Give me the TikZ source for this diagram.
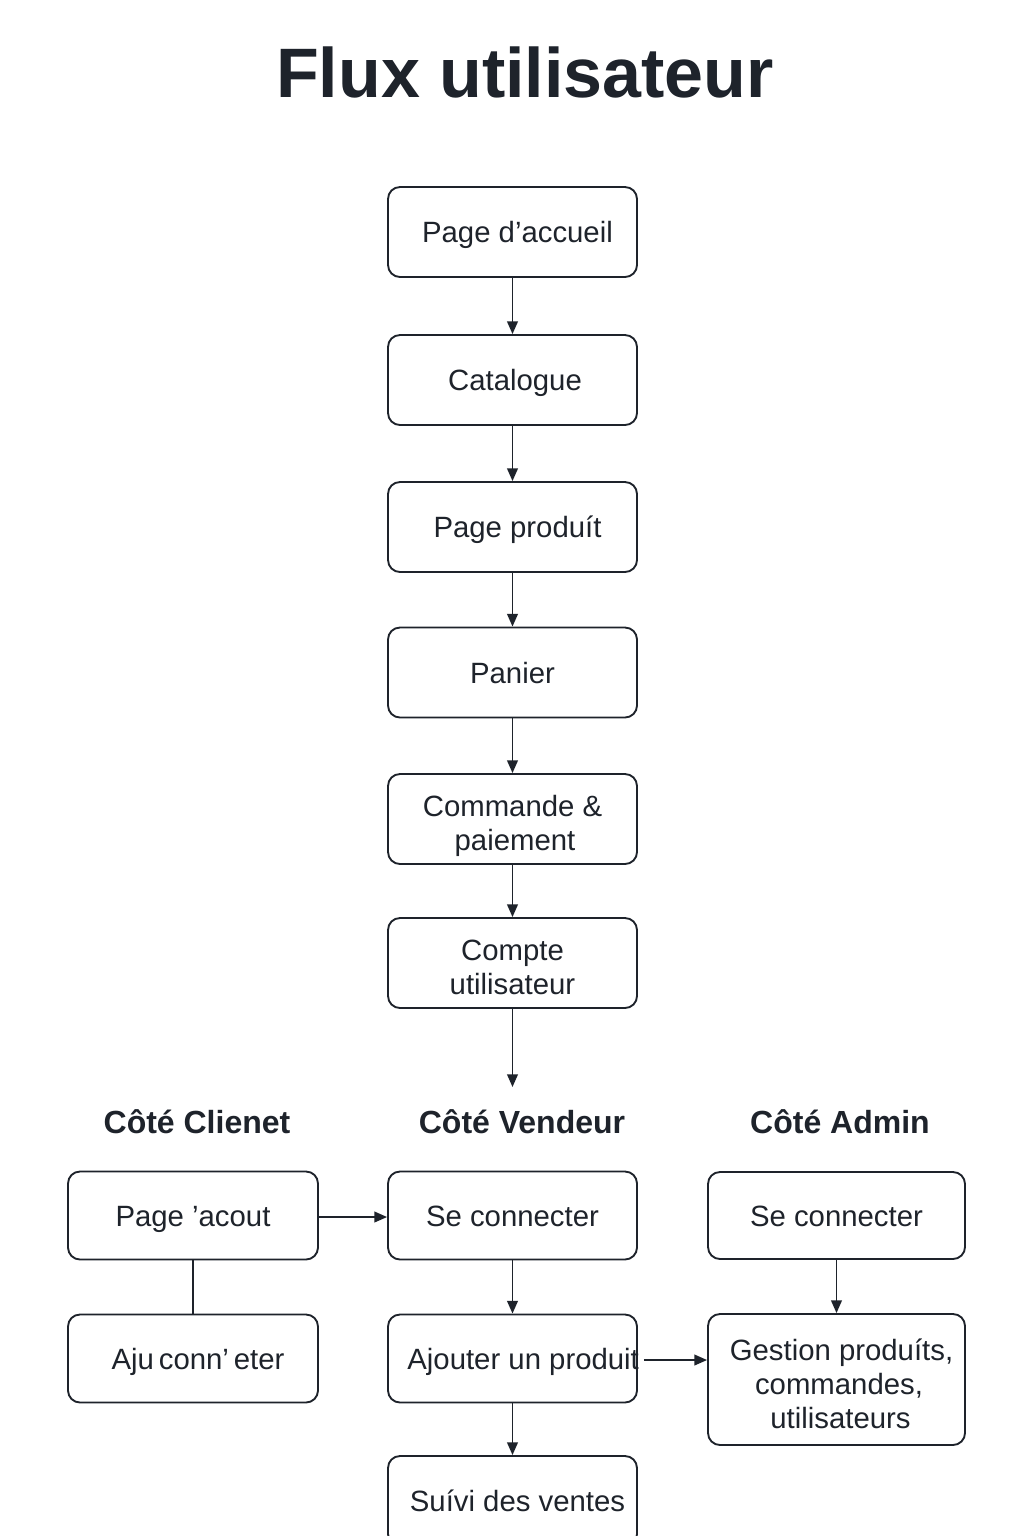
\documentclass[tikz,border=0pt]{standalone}
\usepackage{fontspec}
\setmainfont{Liberation Sans}
\usetikzlibrary{arrows.meta}
\definecolor{ink}{HTML}{1E232B}
\newcommand\sstrut{\rule[-5pt]{0pt}{25.8pt}}
\newcommand\fstrut{\rule{0pt}{26.8pt}}
\newcommand\lstrut{\rule[-5pt]{0pt}{5pt}}
\begin{document}
\begin{tikzpicture}[x=0.75pt,y=-0.75pt,
 box/.style={draw=ink, line width=1.4pt, rounded corners=9pt, align=center, font=\fontsize{22}{25.5}\selectfont, text=ink, inner sep=0pt},
 mainbox/.style={box, minimum width=186.75pt, minimum height=67.5pt},
 leftbox/.style={box, minimum width=187.5pt, minimum height=66pt},
 adminbox/.style={box, minimum width=192.75pt, minimum height=65.25pt},
 link/.style={draw=ink, line width=1.3pt, -{Triangle[length=9.5pt,width=8pt]}},
 plainlink/.style={draw=ink, line width=1.3pt},
 head/.style={font=\bfseries\fontsize{24}{28}\selectfont, text=ink}]
\fill[white] (0,0) rectangle (1024,1536);
\useasboundingbox (0,0) rectangle (1024,1536);

\node[font=\bfseries\fontsize{52.5}{60}\selectfont, text=ink, anchor=base] (title) at (525,97) {Flux utilisateur};

\node[mainbox] (accueil) at (512.5,232) {\sstrut\kern 7.5pt Page d’accueil};
\node[mainbox] (catalogue) at (512.5,380) {\sstrut\kern 3.75pt Catalogue};
\node[mainbox] (produit) at (512.5,527) {\sstrut\kern 7.5pt Page produít};
\node[mainbox] (panier) at (512.5,672.5) {\sstrut Panier};
\node[mainbox] (commande) at (512.5,819) {\fstrut Commande \&\\\kern 3.75pt paiement\lstrut};
\node[mainbox] (compte) at (512.5,963) {\fstrut Compte\\utilisateur\lstrut};
\coordinate (split) at (512.5,1087);

\draw[link] (accueil) -- (catalogue);
\draw[link] (catalogue) -- (produit);
\draw[link] (produit) -- (panier);
\draw[link] (panier) -- (commande);
\draw[link] (commande) -- (compte);
\draw[link] (compte) -- (split);

\node[head] (hclient) at (197,1122) {Côté Clienet};
\node[head] (hvendeur) at (522,1122) {Côté Vendeur};
\node[head] (hadmin) at (840,1122) {Côté Admin};

\node[leftbox] (compteclient) at (193,1215.5) {\sstrut Page ’acout};
\node[leftbox] (ajuclient) at (193,1358.5) {\sstrut\kern 7.5pt Aju\,conn’\,eter};
\draw[plainlink] (compteclient) -- (ajuclient);

\node[mainbox, minimum height=66pt] (vconnect) at (512.5,1215.5) {\sstrut Se connecter};
\node[mainbox, minimum height=66pt] (vajout) at (512.5,1358.5) {\sstrut\makebox[0pt]{\kern 16pt Ajouter un produit}};
\node[mainbox] (vsuivi) at (512.5,1501) {\sstrut\kern 7.5pt Suívi des ventes};

\node[adminbox] (aconnect) at (836.5,1215.5) {\sstrut Se connecter};
\node[adminbox, minimum height=98.25pt] (agestion) at (836.5,1379.5) {\fstrut\kern 7.5pt Gestion produíts,\\\kern 3.75pt commandes,\\\kern 6pt utilisateurs\lstrut};

\draw[link] (compteclient.east |- 0,1217) -- (vconnect.west |- 0,1217);
\draw[link] (vconnect) -- (vajout);
\draw[link] (vajout) -- (vsuivi);
\draw[link] (aconnect) -- (agestion);
\draw[link] ([xshift=4.5pt]vajout.east |- 0,1360) -- (agestion.west |- 0,1360);
\end{tikzpicture}
\end{document}
